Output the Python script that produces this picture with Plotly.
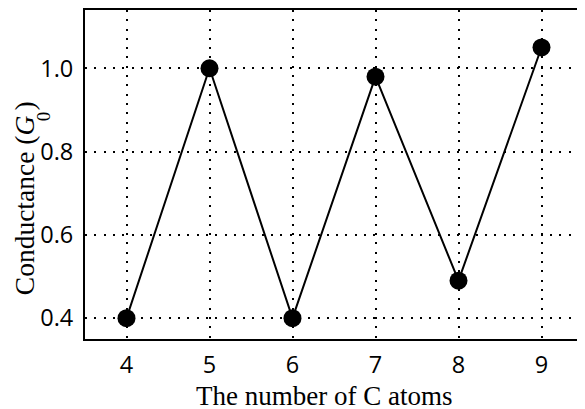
import plotly.graph_objects as go

carbon_atoms = [4, 5, 6, 7, 8, 9]
conductance = [0.40, 1.00, 0.40, 0.98, 0.49, 1.05]
x_ticks = [4, 5, 6, 7, 8, 9]
y_ticks = [0.4, 0.6, 0.8, 1.0]
y_tick_labels = ["0.4", "0.6", "0.8", "1.0"]

fig = go.Figure()
fig.add_trace(go.Scatter(
    x=carbon_atoms, y=conductance, mode="lines+markers",
    line=dict(color="black", width=2),
    marker=dict(color="black", size=18),
    showlegend=False, cliponaxis=False,
))

axis_common = dict(
    showline=True, linecolor="black", linewidth=2, mirror=True,
    showgrid=True, gridcolor="black", gridwidth=1.5, griddash="2px,7.3px",
    zeroline=False, ticks="",
    tickfont=dict(family="Open Sans", size=23.5, color="black"),
)

fig.update_xaxes(range=[3.5, 9.5], tickvals=x_ticks, ticklabelstandoff=4, **axis_common)
fig.update_yaxes(range=[0.35, 1.14], tickvals=y_ticks, ticktext=y_tick_labels,
                 ticklabelstandoff=5, **axis_common)

serif = "Liberation Serif"
fig.add_annotation(
    text="The number of C atoms", xref="paper", yref="paper", x=0.48, y=0,
    xanchor="center", yanchor="top", yshift=-40, showarrow=False,
    font=dict(family=serif, size=27, color="black"),
)
# y-axis title: "Conductance (G" + lowered subscript "0" + ")"
fig.add_annotation(
    text="Conductance (<i>G</i>", xref="paper", yref="paper", x=0, y=0.127,
    xanchor="center", yanchor="bottom", xshift=-61, textangle=-90, showarrow=False,
    font=dict(family=serif, size=27.5, color="black"),
)
fig.add_annotation(
    text="0", xref="paper", yref="paper", x=0, y=0.677,
    xanchor="center", yanchor="middle", xshift=-42, textangle=-90, showarrow=False,
    font=dict(family=serif, size=19, color="black"),
)
fig.add_annotation(
    text=")", xref="paper", yref="paper", x=0, y=0.707,
    xanchor="center", yanchor="middle", xshift=-61, textangle=-90, showarrow=False,
    font=dict(family=serif, size=27.5, color="black"),
)

# page body has an 8px default margin: compensate so the plot area lands where the reference has it
fig.update_layout(
    width=577, height=401,
    margin=dict(l=77, r=0, t=0, b=70),
    plot_bgcolor="white", paper_bgcolor="white",
)

fig.write_html("out.html")
